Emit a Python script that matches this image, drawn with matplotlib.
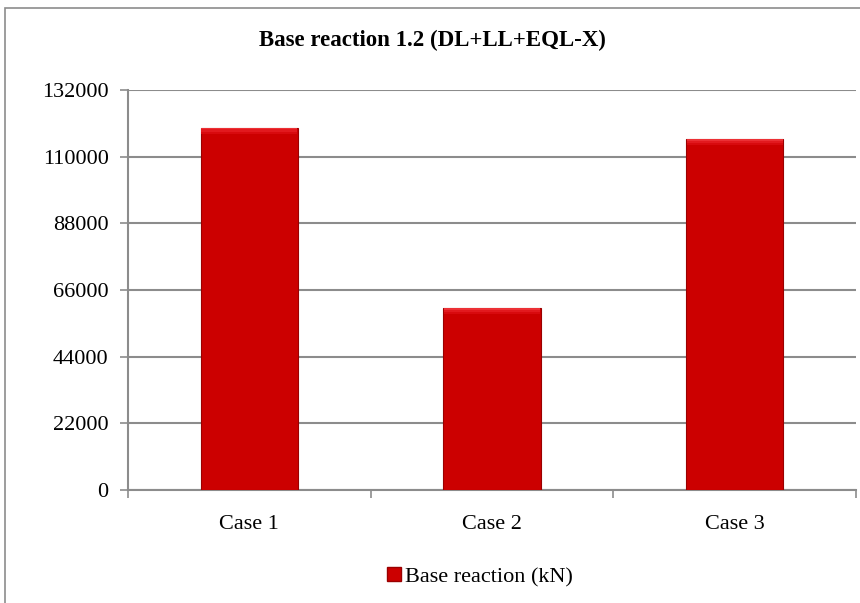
"""Base reaction bar chart for load combination 1.2 (DL+LL+EQL-X)."""

import matplotlib
matplotlib.use("Agg")
import matplotlib.pyplot as plt  # noqa: E402
import numpy as np  # noqa: E402
from matplotlib.patches import Rectangle  # noqa: E402

cases = ["Case 1", "Case 2", "Case 3"]
base_reaction = [119500, 60000, 115800]
yticks = [0, 22000, 44000, 66000, 88000, 110000, 132000]

RED = "#CC0000"
GRID = "#8C8C8C"

plt.rcParams["font.family"] = ["Liberation Serif", "DejaVu Serif"]

fig = plt.figure(figsize=(8.6, 6.03), dpi=100)
ax = fig.add_axes([128 / 860, 113 / 603, 728 / 860, 400 / 603])

# chart frame (cut off at right and bottom like the source screenshot)
fig.patches.append(Rectangle((5 / 860, -0.1), 1.2, (603 - 8) / 603 + 0.1,
                             transform=fig.transFigure, fill=False,
                             edgecolor=GRID, lw=1.2))

x = np.arange(len(cases))
ax.bar(x, base_reaction, width=0.4, color=RED, edgecolor="#9A0000", lw=0.8,
       zorder=3, label="Base reaction (kN)")
# soft bevel highlight on top of each bar
tops = np.array(base_reaction)
for strip, col in [(2000, "#D80A0E"), (1200, "#E2191E"), (500, "#EC3035")]:
    ax.bar(x, [strip] * len(x), bottom=tops - strip, width=0.4 - 0.004,
           color=col, lw=0, zorder=4)

ax.set_xlim(-0.5, 2.5)
ax.set_ylim(0, 132000)
ax.set_yticks(yticks)
ax.set_yticklabels([str(t) for t in yticks], fontsize=16)
ax.set_xticks(x)
ax.set_xticklabels(cases, fontsize=16)
ax.set_xticks([-0.5, 0.5, 1.5, 2.5], minor=True)
ax.tick_params(axis="x", which="major", length=0, pad=18)
ax.tick_params(axis="x", which="minor", length=6, color=GRID, width=1.2)
ax.tick_params(axis="y", length=6, color=GRID, width=1.2, pad=8)
ax.yaxis.grid(True, color=GRID, lw=1.5, zorder=0)
ax.set_axisbelow(True)

for s in ("top", "right"):
    ax.spines[s].set_visible(False)
for s in ("left", "bottom"):
    ax.spines[s].set_color(GRID)
    ax.spines[s].set_linewidth(1.5)

fig.text(432 / 860, 1 - 40 / 603, "Base reaction 1.2 (DL+LL+EQL-X)",
         ha="center", va="center", fontsize=16.5, fontweight="bold")

handle = plt.Line2D([], [], marker="s", ls="none", markersize=10,
                    markerfacecolor=RED, markeredgecolor="#9A0000")
fig.legend([handle], ["Base reaction (kN)"], loc="center",
           bbox_to_anchor=(478 / 860, 1 - 577 / 603), frameon=False,
           fontsize=16, handletextpad=0.0, handlelength=1.0)

fig.savefig("out.png", dpi=100)
